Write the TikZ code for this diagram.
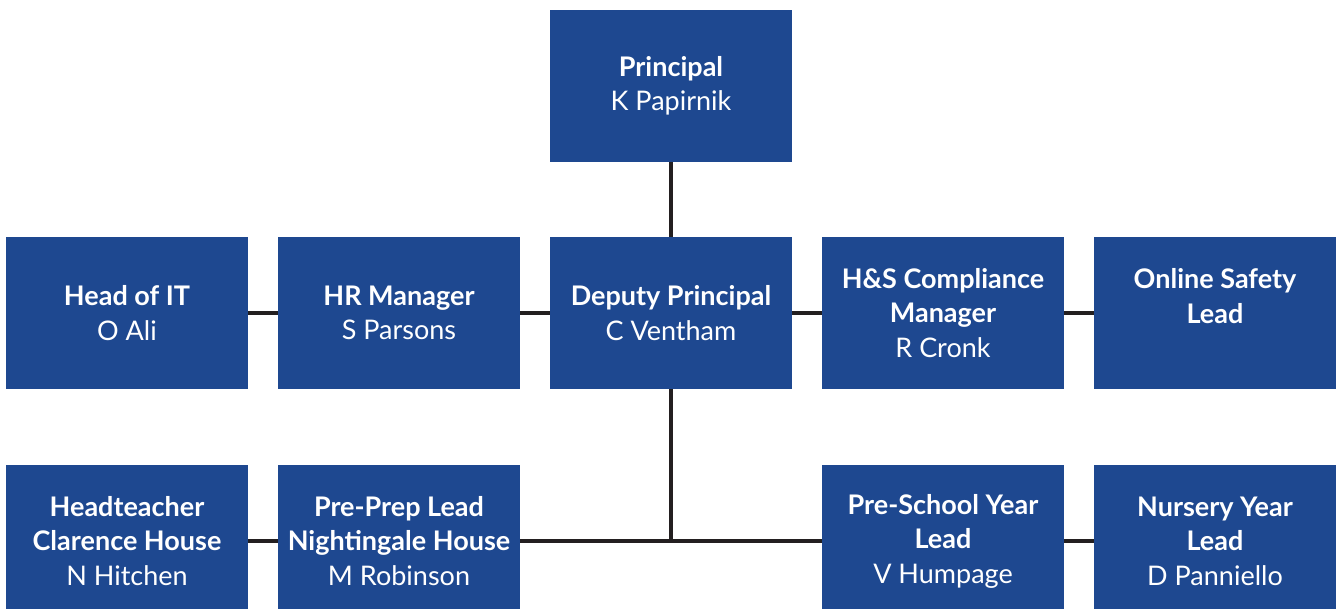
\documentclass[tikz,border=0pt]{standalone}
\usepackage{fontspec}
\setmainfont{Lato}
\definecolor{boxblue}{HTML}{1E4890}
\definecolor{linec}{HTML}{231F20}
\begin{document}
\begin{tikzpicture}[x=1pt,y=-1pt,
  box/.style={fill=boxblue, minimum width=242pt, minimum height=152pt, inner sep=0pt,
    text=white, align=center, font=\fontsize{27}{34.5}\selectfont,
    execute at begin node={\rule{0pt}{25pt}}},
  conn/.style={draw=linec, line width=4pt}]
\useasboundingbox (0,0) rectangle (1338,608);
\clip (0,0) rectangle (1338,608);
\coordinate (j) at (671,541);
\node[box] (p)  at (671,86)  {\textbf{Principal}\\K Papirnik};
\node[box] (it) at (127,313) {\textbf{Head of IT}\\O Ali};
\node[box] (hr) at (399,313) {\textbf{HR Manager}\\S Parsons};
\node[box] (d)  at (671,313) {\textbf{Deputy Principal}\\C Ventham};
\node[box] (hs) at (943,313) {\textbf{H\&S Compliance}\\\textbf{Manager}\\R Cronk};
\node[box] (os) at (1215,313) {\textbf{Online Safety}\\\textbf{Lead}\\\mbox{}};
\node[box] (ht) at (127,541) {\textbf{Headteacher}\\\textbf{Clarence House}\\N Hitchen};
\node[box] (pp) at (399,541) {\textbf{Pre-Prep Lead}\\\textbf{Nightingale House}\\M Robinson};
\node[box] (ps) at (943,541) {\textbf{Pre-School Year}\\\textbf{Lead}\\V Humpage};
\node[box] (ny) at (1215,541) {\textbf{Nursery Year}\\\textbf{Lead}\\D Panniello};
\draw[conn] (p) -- (d);
\draw[conn] (it) -- (hr);
\draw[conn] (hr) -- (d);
\draw[conn] (d) -- (hs);
\draw[conn] (hs) -- (os);
\draw[conn] (d.south) -- (j);
\draw[conn] (ht) -- (pp);
\draw[conn] (pp.east) -- (ps.west);
\draw[conn] (ps) -- (ny);
\end{tikzpicture}
\end{document}
